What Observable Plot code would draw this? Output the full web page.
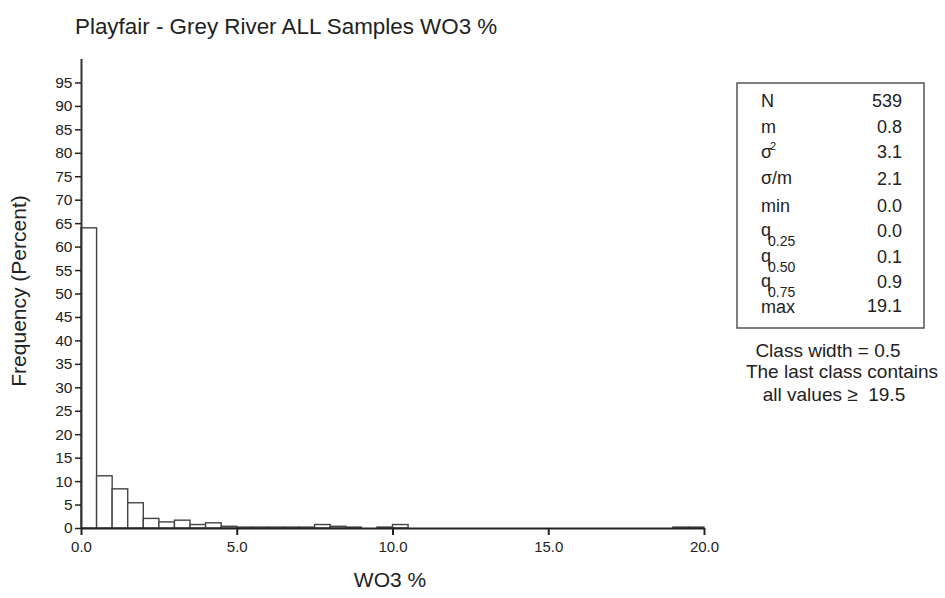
<!DOCTYPE html>
<html><head><meta charset="utf-8">
<script src="https://cdn.jsdelivr.net/npm/d3@7"></script>
<script src="https://cdn.jsdelivr.net/npm/@observablehq/plot@0.6"></script>
<style>
body{margin:0;background:#fff;}
#wrap{position:relative;width:945px;height:598px;overflow:hidden;background:#fff}
#chart{position:absolute;left:0;top:0}
#overlay{position:absolute;left:0;top:0;pointer-events:none}
#chart g[aria-label="y-axis tick label"]{font-size:15.5px !important}
#chart g[aria-label="x-axis tick label"]{font-size:15px !important}
</style></head><body>
<div id="wrap"><div id="chart"></div><svg id="overlay" width="945" height="598"></svg></div>
<script>
const title = "Playfair - Grey River ALL Samples WO3 %";
const xLabel = "WO3 %";
const yLabel = "Frequency (Percent)";
const classWidth = 0.5;
const binStart = [0,0.5,1,1.5,2,2.5,3,3.5,4,4.5,5,5.5,6,6.5,7,7.5,8,8.5,9,9.5,10,10.5,11,11.5,12,12.5,13,13.5,14,14.5,15,15.5,16,16.5,17,17.5,18,18.5,19,19.5];
const freq = [64.0,11.13,8.35,5.38,2.04,1.30,1.67,0.74,1.11,0.37,0.19,0.19,0.19,0.19,0.19,0.74,0.37,0.19,0,0.19,0.74,0,0,0,0,0,0,0,0,0,0,0,0,0,0,0,0,0,0.19,0.19];
const yTicks = [0,5,10,15,20,25,30,35,40,45,50,55,60,65,70,75,80,85,90,95];
const xTicks = [0,5,10,15,20];
const xTickLabels = ["0.0","5.0","10.0","15.0","20.0"];
const statNames = ["N","m","σ","σ/m","min","q","q","q","max"];
const statSup = ["","","2","","","","","",""];
const statSub = ["","","","","","0.25","0.50","0.75",""];
const statValues = ["539","0.8","3.1","2.1","0.0","0.0","0.1","0.9","19.1"];
const notes = ["Class width = 0.5","The last class contains","all values \u2265  19.5"];

const FONT = "'Liberation Sans', Arial, Helvetica, sans-serif";
const data = binStart.map((x, i) => ({x1: x, x2: x + classWidth, y: freq[i]}));

const chart = Plot.plot({
  width: 945, height: 598,
  marginLeft: 81, marginRight: 241, marginTop: 59, marginBottom: 70,
  x: {domain: [0, 20]},
  y: {domain: [0, 100]},
  style: {fontFamily: FONT, fontSize: "15px", color: "#222", background: "#fff"},
  marks: [
    Plot.rect(data, {x1: "x1", x2: "x2", y1: 0, y2: "y", fill: "#fff", stroke: "#444", strokeWidth: 1.4}),
    Plot.ruleX([0], {stroke: "#333", strokeWidth: 2}),
    Plot.ruleY([0], {stroke: "#222", strokeWidth: 2}),
    Plot.axisY(yTicks, {tickSize: 6, tickPadding: 3, label: null, tickFormat: d => String(d), stroke: "#222", strokeWidth: 1.5}),
    Plot.axisX(xTicks, {tickSize: 7, tickPadding: 6, label: null, tickFormat: (d, i) => xTickLabels[i], stroke: "#222", strokeWidth: 2})
  ]
});
document.getElementById("chart").appendChild(chart);

const ov = d3.select("#overlay").style("font-family", FONT).attr("fill", "#222");
ov.append("text").attr("x", 75).attr("y", 34).attr("font-size", 22.4).text(title);
ov.append("text").attr("transform", "translate(26,291) rotate(-90)").attr("text-anchor", "middle").attr("font-size", 21).text(yLabel);
ov.append("text").attr("x", 390).attr("y", 587).attr("text-anchor", "middle").attr("font-size", 21).text(xLabel);

ov.append("rect").attr("x", 737).attr("y", 83).attr("width", 187).attr("height", 245)
  .attr("fill", "none").attr("stroke", "#555").attr("stroke-width", 1.5);
const labelBase = [107,133,158,184,212,236,262,287,313];
const valueBase = [107,133,158,185,212,237,263,288,312];
statNames.forEach((n, i) => {
  ov.append("text").attr("x", 761).attr("y", labelBase[i]).attr("font-size", 18).text(n);
  if (statSup[i]) ov.append("text").attr("x", 770).attr("y", labelBase[i] - 8).attr("font-size", 11).text(statSup[i]);
  if (statSub[i]) ov.append("text").attr("x", 768).attr("y", labelBase[i] + 10).attr("font-size", 14).text(statSub[i]);
  ov.append("text").attr("x", 902).attr("y", valueBase[i]).attr("text-anchor", "end").attr("font-size", 18).text(statValues[i]);
});
const noteX = [828, 842, 834];
const noteY = [357, 378, 401];
notes.forEach((t, i) => {
  ov.append("text").attr("x", noteX[i]).attr("y", noteY[i]).attr("text-anchor", "middle").attr("font-size", 19).style("white-space", "pre").text(t);
});
</script>
</body></html>
